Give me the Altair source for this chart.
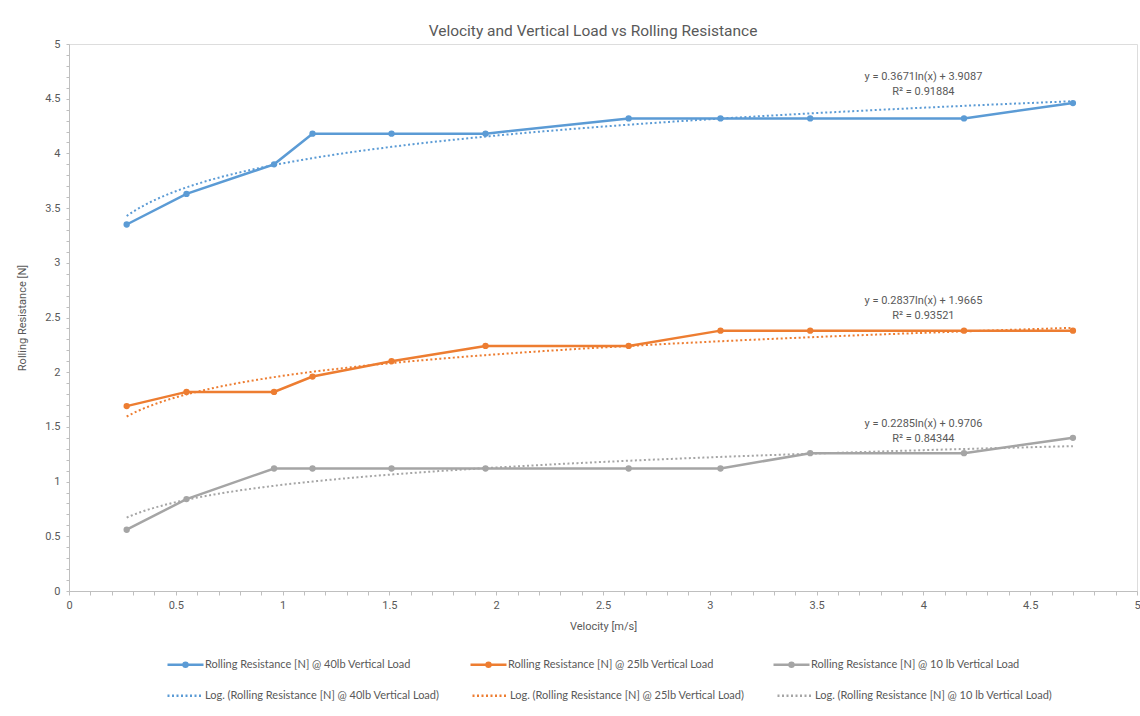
import json
import altair as alt
import pandas as pd

# Measured rolling resistance [N] at each velocity [m/s]
velocity = [0.27, 0.55, 0.96, 1.14, 1.51, 1.95, 2.62, 3.05, 3.47, 4.19, 4.70]
load_40lb = [3.35, 3.63, 3.90, 4.18, 4.18, 4.18, 4.32, 4.32, 4.32, 4.32, 4.46]
load_25lb = [1.69, 1.82, 1.82, 1.96, 2.10, 2.24, 2.24, 2.38, 2.38, 2.38, 2.38]
load_10lb = [0.56, 0.84, 1.12, 1.12, 1.12, 1.12, 1.12, 1.12, 1.26, 1.26, 1.40]

series_names = [
    "Rolling Resistance [N] @ 40lb Vertical Load",
    "Rolling Resistance [N] @ 25lb Vertical Load",
    "Rolling Resistance [N] @ 10 lb Vertical Load",
]
trend_names = ["Log.  (" + s + ")" for s in series_names]
colors = ["#5B9BD5", "#ED7D31", "#A5A5A5"]

# Logarithmic trendlines: y = a ln(x) + b
fit_a = [0.3671, 0.2837, 0.2285]
fit_b = [3.9087, 1.9665, 0.9706]
fit_r2 = ["0.91884", "0.93521", "0.84344"]
eq_x = [4.0, 4.0, 4.0]
eq_y = [4.695, 2.655, 1.531]

tick_values = [round(i * 0.1, 1) for i in range(51)]

TEXT = "#595959"
AXIS = "#BFBFBF"
FONT = "Roboto"

measured = pd.DataFrame({
    "velocity": velocity * 3,
    "resistance": load_40lb + load_25lb + load_10lb,
    "series": [s for s in series_names for _ in velocity],
})

equations = pd.DataFrame({
    "x": eq_x,
    "y": eq_y,
    "label": [f"y = {a}ln(x) + {b}\nR² = {r}" for a, b, r in zip(fit_a, fit_b, fit_r2)],
})

label_expr = ("abs(datum.value * 2 - round(datum.value * 2)) < 0.001 "
              "? format(datum.value, '~g') : ''")

axis_common = dict(
    values=tick_values, tickCount=200, labelExpr=label_expr,
    grid=False, domainColor=AXIS, tickColor=AXIS,
    labelColor=TEXT, labelFontSize=11, labelFont=FONT,
    labelOverlap=False, labelFlush=False,
    titleColor=TEXT, titleFontSize=11, titleFont=FONT, titleFontWeight="normal",
)

x_enc = alt.X(
    "velocity:Q",
    scale=alt.Scale(domain=[0, 5], nice=False),
    axis=alt.Axis(title="Velocity [m/s]", tickSize=4, labelPadding=4,
                  titlePadding=10, **axis_common),
)
y_enc = alt.Y(
    "resistance:Q",
    scale=alt.Scale(domain=[0, 5], nice=False),
    axis=alt.Axis(title="Rolling Resistance [N]", tickSize=3, labelPadding=6,
                  titlePadding=17, **axis_common),
)

# line sample with a filled dot in the middle, drawn with strokes only
line_dot_symbol = (
    "M-1,0H1"
    "M-0.11,0a0.11,0.11 0 1,0 0.22,0a0.11,0.11 0 1,0 -0.22,0"
    "M-0.04,0a0.04,0.04 0 1,0 0.08,0a0.04,0.04 0 1,0 -0.08,0"
)

legend_common = dict(
    orient="none", direction="horizontal", columns=3, title=None,
    labelFont="Lato", labelFontSize=11, labelColor=TEXT, labelLimit=400,
    symbolSize=1296, symbolStrokeWidth=2.5, labelOffset=0, padding=0,
    legendX=97,
)

solid = alt.Chart(measured).mark_line(
    strokeWidth=2.5,
    point=alt.OverlayMarkDef(filled=True, size=40, opacity=1),
).encode(
    x=x_enc,
    y=y_enc,
    color=alt.Color(
        "series:N",
        scale=alt.Scale(domain=series_names, range=colors),
        legend=alt.Legend(symbolType=line_dot_symbol, legendY=601,
                          columnPadding=54, **legend_common),
    ),
)

trend_fields = {f"t{i}": f"{fit_a[i]} * log(datum.velocity) + {fit_b[i]}" for i in range(3)}
trend = alt.Chart(
    alt.sequence(min(velocity), max(velocity) + 0.005, 0.01, as_="velocity")
).transform_calculate(**trend_fields).transform_fold(
    list(trend_fields), as_=["key", "resistance"]
).transform_calculate(
    trend=f"{json.dumps(trend_names)}[toNumber(substring(datum.key, 1))]"
).mark_line(strokeWidth=2, strokeDash=[2, 2.5], strokeCap="butt").encode(
    x="velocity:Q",
    y="resistance:Q",
    color=alt.Color(
        "trend:N",
        scale=alt.Scale(domain=trend_names, range=colors),
        legend=alt.Legend(symbolType="stroke", symbolDash=[2, 2.5], legendY=632,
                          columnPadding=24, **legend_common),
    ),
)

eq_text = alt.Chart(equations).mark_text(
    lineBreak="\n", fontSize=11, font=FONT, color=TEXT,
    align="center", baseline="middle", lineHeight=15,
).encode(x="x:Q", y="y:Q", text="label:N")

chart = alt.layer(solid, trend, eq_text).resolve_scale(
    color="independent"
).properties(
    width=1068,
    height=547,
    title=alt.TitleParams(
        "Velocity and Vertical  Load vs Rolling Resistance",
        font=FONT, fontSize=15.5, fontWeight="normal", color=TEXT,
        anchor="middle", offset=-1, dx=-10,
    ),
    autosize=alt.AutoSizeParams(type="none"),
    padding={"left": 69, "top": 44, "right": 3, "bottom": 125},
).configure_view(stroke=None).configure(background="white")

chart.save("out.html", embed_options={"renderer": "svg", "actions": False})
